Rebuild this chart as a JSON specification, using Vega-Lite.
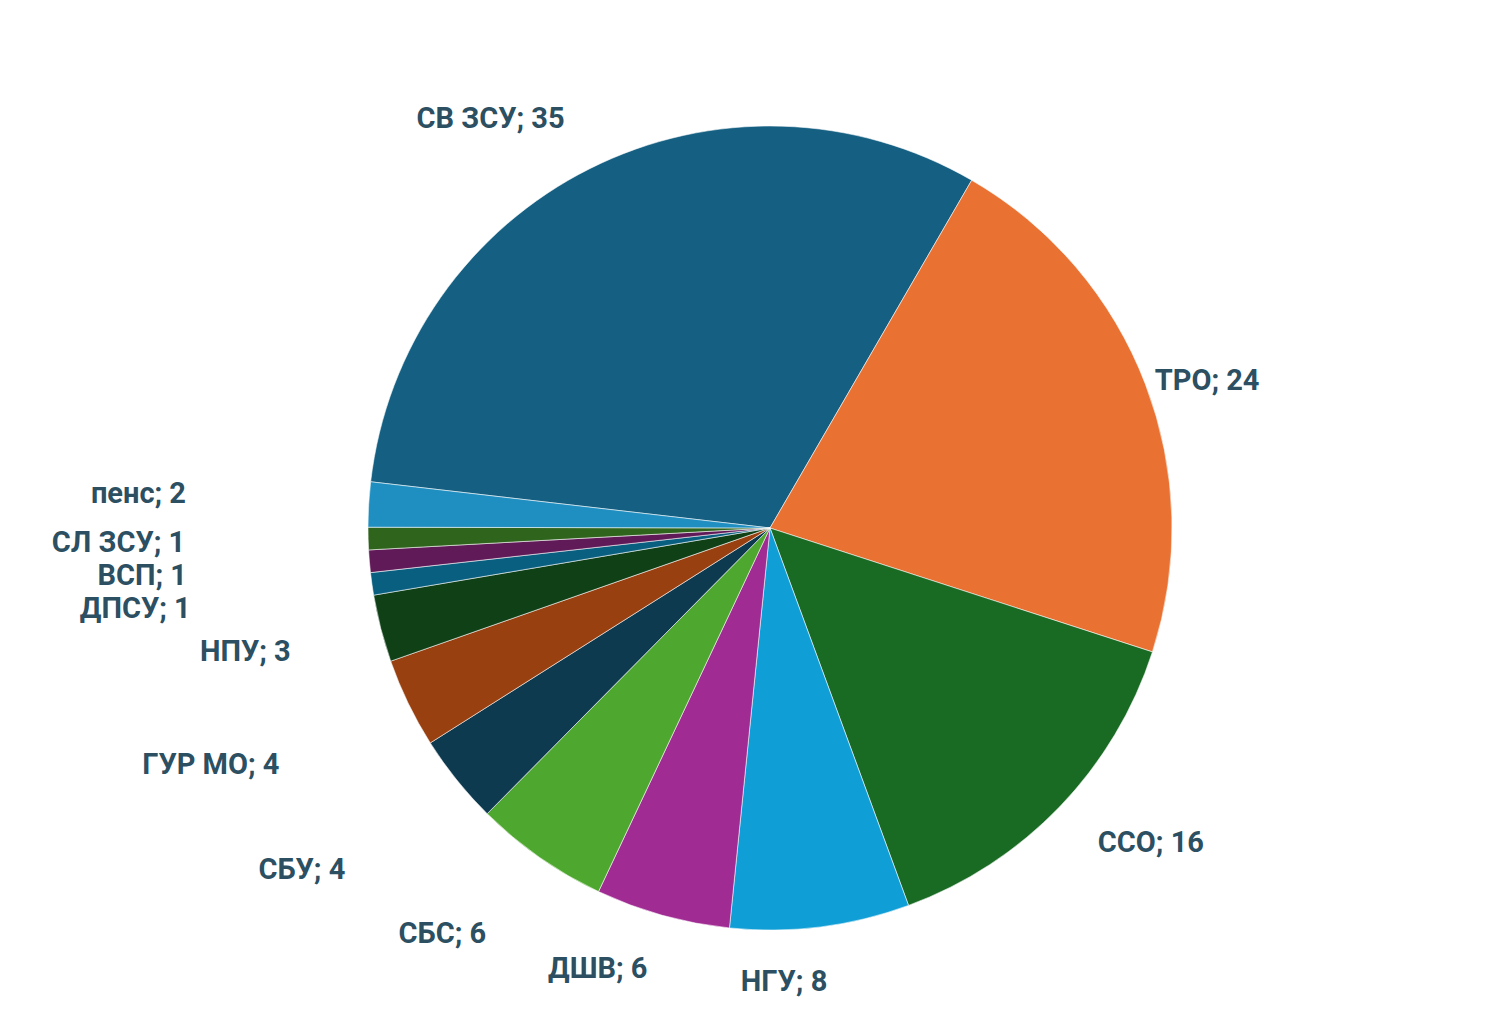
{
  "$schema": "https://vega.github.io/schema/vega-lite/v6.json",
  "width": 1476,
  "height": 1020,
  "autosize": {"type": "none"},
  "padding": {"left": 32, "top": 18, "right": 0, "bottom": 0},
  "background": "#ffffff",
  "config": {"view": {"stroke": "#d6d6d6", "strokeWidth": 1.5}},
  "data": {
    "values": [
      {"unit": "СВ ЗСУ", "count": 35},
      {"unit": "ТРО", "count": 24},
      {"unit": "ССО", "count": 16},
      {"unit": "НГУ", "count": 8},
      {"unit": "ДШВ", "count": 6},
      {"unit": "СБС", "count": 6},
      {"unit": "СБУ", "count": 4},
      {"unit": "ГУР МО", "count": 4},
      {"unit": "НПУ", "count": 3},
      {"unit": "ДПСУ", "count": 1},
      {"unit": "ВСП", "count": 1},
      {"unit": "СЛ ЗСУ", "count": 1},
      {"unit": "пенс", "count": 2}
    ]
  },
  "transform": [
    {"window": [{"op": "row_number", "as": "idx"}]},
    {"calculate": "datum.unit + '; ' + datum.count", "as": "label"}
  ],
  "encoding": {
    "theta": {"field": "count", "type": "quantitative", "stack": true, "scale": {"range": [-1.4556, 4.8276]}},
    "order": {"field": "idx", "type": "quantitative"},
    "detail": {"field": "unit", "type": "nominal"}
  },
  "layer": [
    {
      "mark": {"type": "arc", "outerRadius": 402, "stroke": "#ffffff", "strokeWidth": 1, "strokeOpacity": 0.55},
      "encoding": {
        "color": {
          "field": "unit",
          "type": "nominal",
          "legend": null,
          "scale": {
            "domain": ["СВ ЗСУ", "ТРО", "ССО", "НГУ", "ДШВ", "СБС", "СБУ", "ГУР МО", "НПУ", "ДПСУ", "ВСП", "СЛ ЗСУ", "пенс"],
            "range": ["#156082", "#E97132", "#196B24", "#0F9ED5", "#A02B93", "#4EA72E", "#0D3A4E", "#994011", "#0F4016", "#095F80", "#601A58", "#2F641C", "#1F8EC0"]
          }
        }
      }
    },
    {
      "mark": {"type": "text", "radius": 412, "align": "left", "baseline": "middle", "font": "Roboto", "fontWeight": "bold", "fontSize": 29, "color": "#2c4f62"},
      "encoding": {"text": {"condition": {"test": "datum.unit == 'ТРО'", "field": "label", "type": "nominal"}, "value": ""}}
    },
    {
      "mark": {"type": "text", "radius": 455, "align": "left", "baseline": "middle", "font": "Roboto", "fontWeight": "bold", "fontSize": 29, "color": "#2c4f62"},
      "encoding": {"text": {"condition": {"test": "datum.unit == 'ССО'", "field": "label", "type": "nominal"}, "value": ""}}
    },
    {
      "mark": {"type": "text", "radius": 458, "align": "right", "baseline": "middle", "font": "Roboto", "fontWeight": "bold", "fontSize": 29, "color": "#2c4f62"},
      "encoding": {"text": {"condition": {"test": "indexof(['СВ ЗСУ','ДШВ','НГУ'], datum.unit) >= 0", "field": "label", "type": "nominal"}, "value": ""}}
    },
    {
      "mark": {"type": "text", "radius": 495, "align": "right", "baseline": "middle", "font": "Roboto", "fontWeight": "bold", "fontSize": 29, "color": "#2c4f62"},
      "encoding": {"text": {"condition": {"test": "indexof(['СБС','НПУ'], datum.unit) >= 0", "field": "label", "type": "nominal"}, "value": ""}}
    },
    {
      "mark": {"type": "text", "radius": 545, "align": "right", "baseline": "middle", "font": "Roboto", "fontWeight": "bold", "fontSize": 29, "color": "#2c4f62"},
      "encoding": {"text": {"condition": {"test": "indexof(['СБУ','ГУР МО'], datum.unit) >= 0", "field": "label", "type": "nominal"}, "value": ""}}
    },
    {
      "mark": {"type": "text", "radius": 585, "align": "right", "baseline": "middle", "font": "Roboto", "fontWeight": "bold", "fontSize": 29, "color": "#2c4f62"},
      "encoding": {"text": {"condition": {"test": "indexof(['ДПСУ','ВСП','СЛ ЗСУ','пенс'], datum.unit) >= 0", "field": "label", "type": "nominal"}, "value": ""}}
    }
  ]
}
